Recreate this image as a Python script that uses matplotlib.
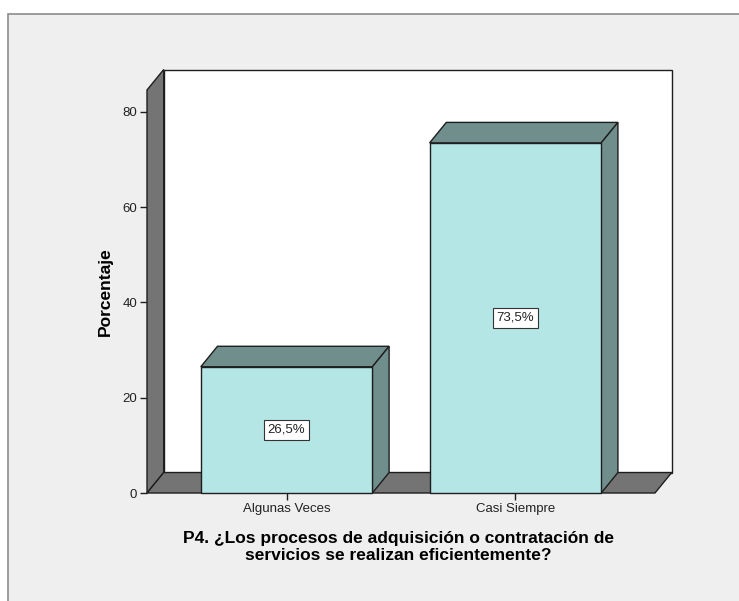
import matplotlib
matplotlib.use("Agg")
import matplotlib.pyplot as plt
from matplotlib.patches import Polygon, Rectangle

plt.rcParams['font.family'] = ['Liberation Sans', 'DejaVu Sans']

categories = ["Algunas Veces", "Casi Siempre"]
percentages = [26.5, 73.5]
yticks = [0, 20, 40, 60, 80]
ylabel = "Porcentaje"
xlabel = "P4. ¿Los procesos de adquisición o contratación de\nservicios se realizan eficientemente?"

# colours of the pseudo-3D chart
PANEL = "#efefef"
WALL = "#747474"
BAR_FRONT = "#b4e6e6"
BAR_SIDE = "#6f8e8c"
EDGE = "#1e1e1e"

W, H = 739, 601
fig = plt.figure(figsize=(W / 100, H / 100), dpi=100, facecolor="white")

# grey chart panel with a thin frame on top and left
bg = fig.add_axes([0, 0, 1, 1])
bg.set_xlim(0, W)
bg.set_ylim(H, 0)
bg.axis("off")
bg.add_patch(Rectangle((8, 14), W + 10, H + 10, facecolor=PANEL,
                       edgecolor="#8c8c8c", linewidth=1.2))

ax = fig.add_axes([147 / W, (H - 493) / H, (655 - 147) / W, (493 - 90) / H])
x0, x1 = -0.61, 1.61
y0, y1 = 0, 84.6
ax.set_xlim(x0, x1)
ax.set_ylim(y0, y1)
ax.patch.set_visible(False)
for s in ax.spines.values():
    s.set_visible(False)

# depth offsets in data units
dx, dy = 0.073, 4.3

# back wall
ax.add_patch(Polygon([(x0 + dx, y0 + dy), (x1 + dx, y0 + dy), (x1 + dx, y1 + dy), (x0 + dx, y1 + dy)],
                     closed=True, facecolor="white", edgecolor=EDGE, lw=1.0, clip_on=False, zorder=1))
# left wall
ax.add_patch(Polygon([(x0, y0), (x0, y1), (x0 + dx, y1 + dy), (x0 + dx, y0 + dy)],
                     closed=True, facecolor=WALL, edgecolor=EDGE, lw=1.0, clip_on=False, zorder=2))
# floor
ax.add_patch(Polygon([(x0, y0), (x1, y0), (x1 + dx, y0 + dy), (x0 + dx, y0 + dy)],
                     closed=True, facecolor=WALL, edgecolor=EDGE, lw=1.0, clip_on=False, zorder=2))

bw = 0.75
for i, v in enumerate(percentages):
    l, r = i - bw / 2, i + bw / 2
    ax.add_patch(Polygon([(l, v), (r, v), (r + dx, v + dy), (l + dx, v + dy)],
                         closed=True, facecolor=BAR_SIDE, edgecolor=EDGE, lw=1.0, clip_on=False, zorder=3))
    ax.add_patch(Polygon([(r, 0), (r + dx, dy), (r + dx, v + dy), (r, v)],
                         closed=True, facecolor=BAR_SIDE, edgecolor=EDGE, lw=1.0, clip_on=False, zorder=3))
    ax.add_patch(Rectangle((l, 0), bw, v, facecolor=BAR_FRONT, edgecolor=EDGE,
                           lw=1.0, clip_on=False, zorder=4))
    ax.text(i, v / 2, f"{v:.1f}%".replace(".", ","), ha="center", va="center",
            fontsize=9.5, color="#222222", zorder=5,
            bbox=dict(boxstyle="square,pad=0.3", facecolor="white", edgecolor="#333333", lw=0.8))

ax.set_yticks(yticks)
ax.set_yticklabels([str(t) for t in yticks])
ax.set_xticks(range(len(categories)))
ax.set_xticklabels(categories)
ax.tick_params(axis="both", direction="out", length=5, width=1, color=EDGE,
               labelsize=9.5, labelcolor="#222222", pad=2)

ax.set_ylabel(ylabel, fontsize=12.5, fontweight="bold", labelpad=7)
ax.set_xlabel(xlabel, fontsize=12.5, fontweight="bold", linespacing=1.15, labelpad=12)
ax.xaxis.label.set_position((0.5 - 0.005, 0))

fig.savefig("out.png", dpi=100, facecolor=fig.get_facecolor())
